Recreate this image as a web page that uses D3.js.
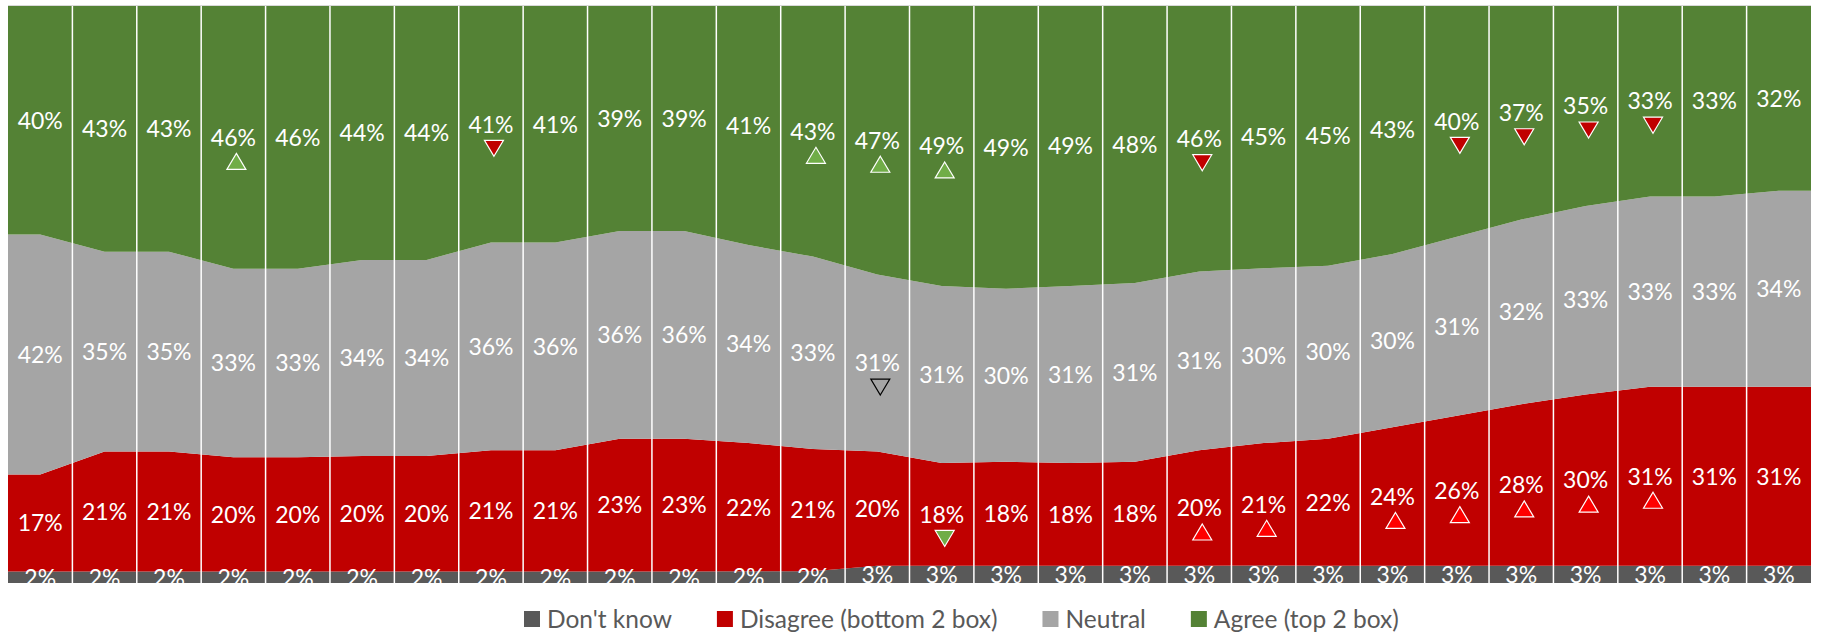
<!DOCTYPE html>
<html>
<head>
<meta charset="utf-8">
<script src="https://cdn.jsdelivr.net/npm/d3@7"></script>
<style>
  body { margin: 0; background: #fff; }
  text { font-family: Lato, "Open Sans", sans-serif; }
</style>
</head>
<body>
<script>
// 28 waves, no axis labels in the original
const waves = d3.range(1, 29).map(i => "W" + i);

const dontKnow = [2,2,2,2,2,2,2,2,2,2,2,2,2,3,3,3,3,3,3,3,3,3,3,3,3,3,3,3];
const disagree = [17,21,21,20,20,20,20,21,21,23,23,22,21,20,18,18,18,18,20,21,22,24,26,28,30,31,31,31];
const neutral  = [42,35,35,33,33,34,34,36,36,36,36,34,33,31,31,30,31,31,31,30,30,30,31,32,33,33,33,34];
const agree    = [40,43,43,46,46,44,44,41,41,39,39,41,43,47,49,49,49,48,46,45,45,43,40,37,35,33,33,32];

// significance vs previous wave: 1 = up, -1 = down
const agreeSig    = [0,0,0,1,0,0,0,-1,0,0,0,0,1,1,1,0,0,0,-1,0,0,0,-1,-1,-1,-1,0,0];
const neutralSig  = [0,0,0,0,0,0,0,0,0,0,0,0,0,-1,0,0,0,0,0,0,0,0,0,0,0,0,0,0];
const disagreeSig = [0,0,0,0,0,0,0,0,0,0,0,0,0,0,-1,0,0,0,1,1,0,1,1,1,1,1,0,0];

const seriesKeys  = ["dk", "dis", "neu", "agr"];
const seriesNames = ["Don't know", "Disagree (bottom 2 box)", "Neutral", "Agree (top 2 box)"];
const colors = {dk: "#595959", dis: "#C00000", neu: "#A5A5A5", agr: "#548235"};

const width = 1823, height = 633;
const plotLeft = 8, plotRight = 1811, plotTop = 6, plotBottom = 583;

const table = waves.map((w, i) => ({
  wave: w, dk: dontKnow[i], dis: disagree[i], neu: neutral[i], agr: agree[i],
  sig: {dk: 0, dis: disagreeSig[i], neu: neutralSig[i], agr: agreeSig[i]}
}));

const stacked = d3.stack().keys(seriesKeys).offset(d3.stackOffsetExpand)(table);

const x = d3.scaleBand().domain(waves).range([plotLeft, plotRight]);
const cx = w => x(w) + x.bandwidth() / 2;
const y = d3.scaleLinear().domain([0, 1]).range([plotBottom, plotTop]);

const svg = d3.create("svg")
  .attr("width", width)
  .attr("height", height)
  .attr("viewBox", `0 0 ${width} ${height}`);

svg.append("clipPath").attr("id", "plot")
  .append("rect").attr("x", plotLeft).attr("y", plotTop)
  .attr("width", plotRight - plotLeft).attr("height", plotBottom - plotTop);

const plot = svg.append("g").attr("clip-path", "url(#plot)");

// areas, extended flat to the plot edges
const area = d3.area()
  .x(p => p.x)
  .y0(p => y(p.d[0]))
  .y1(p => y(p.d[1]));

plot.selectAll("path.layer")
  .data(stacked)
  .join("path")
  .attr("class", "layer")
  .attr("fill", s => colors[s.key])
  .attr("d", s => {
    const pts = s.map(d => ({x: cx(d.data.wave), d}));
    pts.unshift({x: plotLeft, d: s[0]});
    pts.push({x: plotRight, d: s[s.length - 1]});
    return area(pts);
  });

// white separators between waves
plot.selectAll("line.sep")
  .data(waves.slice(1))
  .join("line")
  .attr("class", "sep")
  .attr("x1", w => x(w)).attr("x2", w => x(w))
  .attr("y1", plotTop).attr("y2", plotBottom)
  .attr("stroke", "#fff")
  .attr("stroke-width", 1.5);

svg.append("line")
  .attr("x1", plotLeft).attr("x2", plotRight)
  .attr("y1", plotTop - 0.5).attr("y2", plotTop - 0.5)
  .attr("stroke", "#d9d9d9");

// data labels
const labels = stacked.flatMap(s => s.map(d => ({key: s.key, d})));

plot.selectAll("text.lbl")
  .data(labels)
  .join("text")
  .attr("class", "lbl")
  .attr("x", p => cx(p.d.data.wave))
  .attr("y", p => y((p.d[0] + p.d[1]) / 2))
  .attr("dy", "0.36em")
  .attr("text-anchor", "middle")
  .attr("fill", "#fff")
  .style("font-size", "23px")
  .text(p => p.d.data[p.key] + "%");

// significance triangles
const triFill = {
  agr: {"1": "#70AD47", "-1": "#C00000"},
  dis: {"1": "#FF0000", "-1": "#70AD47"},
  neu: {"1": "none", "-1": "none"}
};
const triStroke = {agr: "#fff", dis: "#fff", neu: "#000"};
const tw = 19, th = 16;
const triPath = dir => dir > 0
  ? `M0,${-th / 2}L${tw / 2},${th / 2}L${-tw / 2},${th / 2}Z`
  : `M0,${th / 2}L${tw / 2},${-th / 2}L${-tw / 2},${-th / 2}Z`;

plot.selectAll("path.tri")
  .data(labels.filter(p => p.d.data.sig[p.key] !== 0))
  .join("path")
  .attr("class", "tri")
  .attr("transform", p => `translate(${cx(p.d.data.wave) + 3},${y((p.d[0] + p.d[1]) / 2) + 24})`)
  .attr("d", p => triPath(p.d.data.sig[p.key]))
  .attr("fill", p => triFill[p.key][String(p.d.data.sig[p.key])])
  .attr("stroke", p => triStroke[p.key])
  .attr("stroke-width", 1.2);

document.body.append(svg.node());

// legend
const legend = svg.append("g").attr("transform", "translate(524,619)");
let lx = 0;
seriesKeys.forEach((k, i) => {
  const g = legend.append("g").attr("transform", `translate(${lx},0)`);
  g.append("rect").attr("x", 0).attr("y", -8).attr("width", 16).attr("height", 16)
    .attr("fill", colors[k]);
  const t = g.append("text").attr("x", 23).attr("dy", "0.35em")
    .attr("fill", "#595959").style("font-size", "24.5px")
    .text(seriesNames[i]);
  lx += 23 + t.node().getComputedTextLength() + 45;
});
</script>
</body>
</html>
